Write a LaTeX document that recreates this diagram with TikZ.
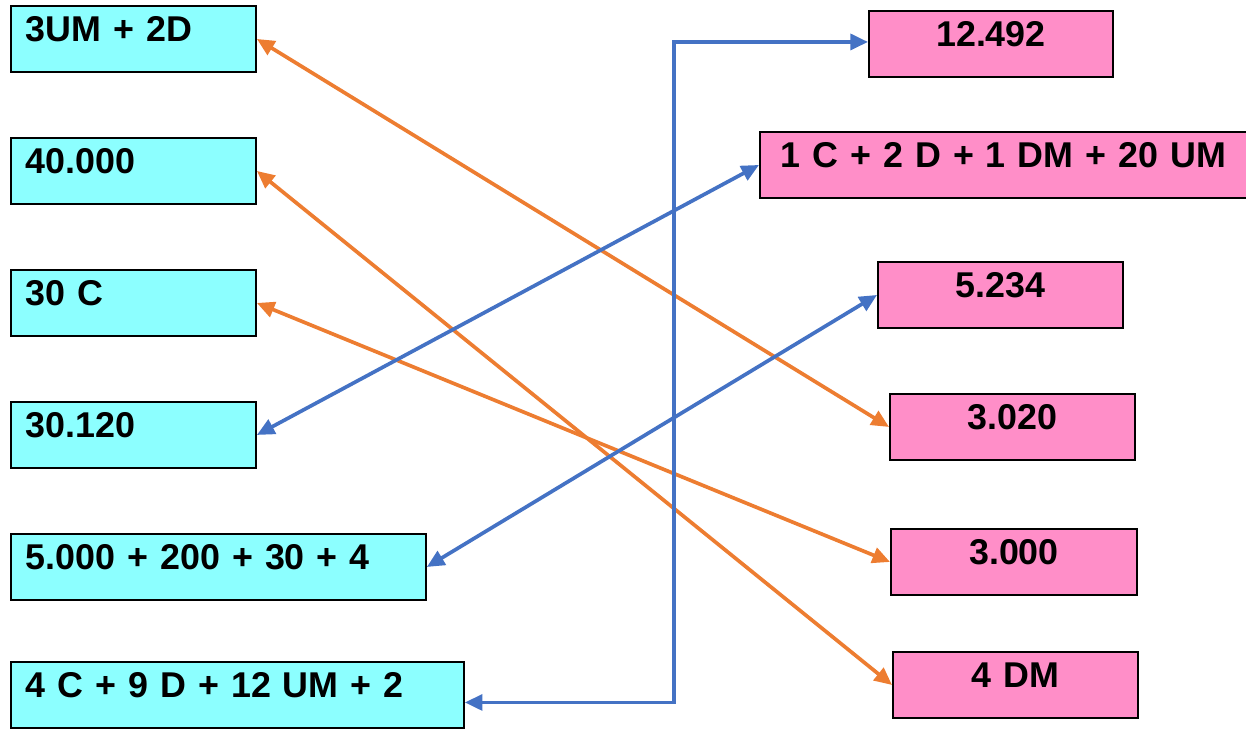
\documentclass[tikz,border=0pt]{standalone}
\usepackage{fontspec}
\setmainfont{Liberation Sans}
\usetikzlibrary{arrows.meta}
\definecolor{cyanbox}{RGB}{140,255,255}
\definecolor{pinkbox}{RGB}{255,142,200}
\definecolor{linkorange}{RGB}{237,125,49}
\definecolor{linkblue}{RGB}{68,114,196}

\begin{document}
\begin{tikzpicture}
  [x=0.02cm, y=-0.02cm,
    box/.style={draw, line width=1.1pt, anchor=north west, inner xsep=0.3cm, inner ysep=0pt,
      text height=0.72cm, text depth=0.60cm, font=\fontsize{20.4}{24}\selectfont\bfseries},
    lbox/.style={box, fill=cyanbox, text width=#1, align=left},
    rbox/.style={box, fill=pinkbox, text width=#1, align=center},
    link/.style={line width=2.1pt, {Triangle[length=10pt,width=9pt]}-{Triangle[length=10pt,width=9pt]}},
  ]
  \useasboundingbox (0,0) rectangle (1246,729);
  % left column
  \node[lbox=4.3cm] (l1) at (10,5) {3UM + 2D};
  \node[lbox=4.3cm] (l2) at (10,137) {40.000};
  \node[lbox=4.3cm] (l3) at (10,269) {30 C};
  \node[lbox=4.3cm] (l4) at (10,401) {30.120};
  \node[lbox=7.7cm] (l5) at (10,533) {5.000 + 200 + 30 + 4};
  \node[lbox=8.46cm] (l6) at (10,661) {4 C + 9 D + 12 UM + 2};
  % right column
  \node[rbox=4.28cm] (r1) at (868,10) {12.492};
  \node[rbox=9.14cm] (r2) at (759,131) {1 C + 2 D + 1 DM + 20 UM};
  \node[rbox=4.3cm] (r3) at (877,261) {5.234};
  \node[rbox=4.3cm] (r4) at (889,393) {3.020};
  \node[rbox=4.32cm] (r5) at (890,528) {3.000};
  \node[rbox=4.3cm] (r6) at (892,651) {4 DM};
  % links
  \draw[link, linkorange] (l1.east) -- (r4.west);
  \draw[link, linkorange] (l2.east) -- (r6.west);
  \draw[link, linkorange] (l3.east) -- (r5.west);
  \draw[link, linkblue] (l4.east) -- (r2.west);
  \draw[link, linkblue] (l5.east) -- (r3.west);
  \draw[link, linkblue] ([yshift=-0.15cm]l6.east) -- ++(209,0) |- ([yshift=0.04cm]r1.west);
\end{tikzpicture}
\end{document}
